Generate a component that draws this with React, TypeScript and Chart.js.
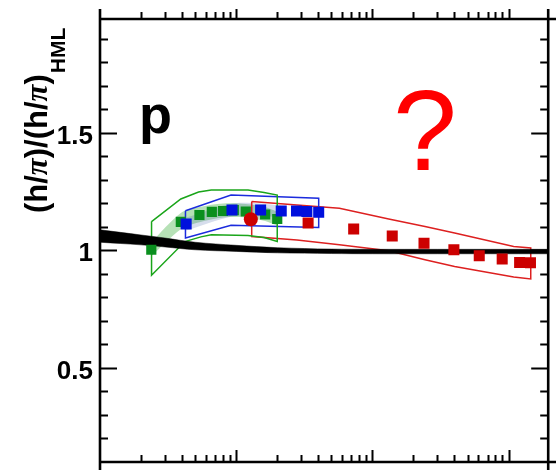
import React, { useEffect, useRef } from "react";
import { Chart, registerables } from "chart.js";

Chart.register(...registerables);

// ---- axis ranges ----
const X_MIN = 1;
const X_MAX = 1950;
const Y_MIN = 0.1;
const Y_MAX = 1.985;

// ---- tick labels ----
const yTickValues = [0.5, 1, 1.5];
const yTickLabels = ["0.5", "1", "1.5"];
const yMinorStep = 0.1;
const xDecades = [1, 10, 100, 1000];

// ---- data: green squares ----
const greenX = [2.38, 3.92, 5.37, 6.62, 8.0, 9.6, 11.75, 16.3, 20.0];
const greenY = [1.003, 1.122, 1.151, 1.164, 1.168, 1.172, 1.166, 1.153, 1.134];

// ---- data: blue squares ----
const blueX = [4.29, 9.31, 15.1, 21.4, 27.7, 33.0, 40.3];
const blueY = [1.113, 1.172, 1.172, 1.168, 1.168, 1.166, 1.163];

// ---- data: red circle ----
const redCircleX = [12.8];
const redCircleY = [1.133];

// ---- data: red squares ----
const redX = [33.7, 72.8, 139.7, 239, 396, 608, 896, 1203, 1445];
const redY = [1.117, 1.091, 1.062, 1.031, 1.003, 0.978, 0.964, 0.949, 0.948];

// ---- black model band ----
const bandX = [1, 2, 3, 5, 10, 20, 50, 100, 300, 1000, 1950];
const bandUpper = [1.088, 1.066, 1.053, 1.035, 1.022, 1.012, 1.006, 1.005, 1.005, 1.005, 1.005];
const bandLower = [1.035, 1.024, 1.015, 1.003, 0.996, 0.99, 0.987, 0.986, 0.986, 0.986, 0.986];

// ---- light green shading ----
const gShadeX = [2.38, 3.92, 5.37, 8.0, 11.75, 16.3, 20.0];
const gShadeUpper = [1.035, 1.16, 1.185, 1.2, 1.198, 1.185, 1.165];
const gShadeLower = [0.975, 1.09, 1.12, 1.14, 1.14, 1.125, 1.105];

// ---- blue-grey shading ----
const bShadeX = [4.29, 9.31, 15.1, 21.4];
const bShadeUpper = [1.14, 1.2, 1.2, 1.19];
const bShadeLower = [1.085, 1.145, 1.145, 1.145];

// ---- systematic outlines ----
const greenSysX = [2.39, 3.92, 5.29, 6.56, 12.2, 16.0, 20.0, 20.0, 16.0, 12.2, 6.56, 5.5, 4.2, 2.39, 2.39];
const greenSysY = [1.123, 1.219, 1.249, 1.257, 1.257, 1.247, 1.236, 1.038, 1.055, 1.064, 1.067, 1.058, 1.038, 0.895, 1.123];

const blueSysX = [4.24, 9.16, 40.3, 40.3, 9.16, 4.24, 4.24];
const blueSysY = [1.169, 1.236, 1.222, 1.098, 1.107, 1.053, 1.169];

const redSysX = [12.99, 27.9, 57.2, 131.6, 243, 401, 1088, 1452, 1452, 1088, 401, 243, 131.6, 57.2, 27.9, 12.99, 12.99];
const redSysY = [1.208, 1.194, 1.18, 1.134, 1.102, 1.074, 1.017, 1.011, 0.879, 0.887, 0.932, 0.961, 0.999, 1.024, 1.045, 1.059, 1.208];

const zip = (xs: number[], ys: number[]) => xs.map((x, i) => ({ x, y: ys[i] }));

const SANS = "'Liberation Sans', Arial, Helvetica, sans-serif";
const SERIF = "'Liberation Serif', 'Times New Roman', serif";

const framePlugin = {
  id: "framePlugin",
  afterDraw(chart: any) {
    const ctx = chart.ctx as CanvasRenderingContext2D;
    const xs = chart.scales.x;
    const ys = chart.scales.y;
    const { left, right, top, bottom } = chart.chartArea;
    ctx.save();
    ctx.strokeStyle = "#000";
    ctx.fillStyle = "#000";
    ctx.lineCap = "butt";

    // frame
    ctx.lineWidth = 2.6;
    ctx.beginPath();
    ctx.moveTo(left, 9);
    ctx.lineTo(left, 470);
    ctx.moveTo(right, 9);
    ctx.lineTo(right, 470);
    ctx.moveTo(left, top);
    ctx.lineTo(556, top);
    ctx.moveTo(left, bottom);
    ctx.lineTo(556, bottom);
    ctx.stroke();

    // x ticks (log)
    ctx.lineWidth = 2;
    ctx.beginPath();
    for (const d of xDecades) {
      for (let m = 1; m <= 9; m++) {
        const v = d * m;
        if (v <= X_MIN || v >= X_MAX) continue;
        const px = Math.round(xs.getPixelForValue(v)) + 0.5;
        const major = m === 1;
        ctx.moveTo(px, bottom);
        ctx.lineTo(px, bottom - (major ? 12 : 7));
        ctx.moveTo(px, top);
        ctx.lineTo(px, top - (major ? 10 : 7));
      }
    }
    // y ticks
    const nMinor = Math.round((Y_MAX - Y_MIN) / yMinorStep) + 2;
    for (let i = 0; i <= nMinor; i++) {
      const v = Math.round(i * yMinorStep * 10) / 10;
      if (v <= Y_MIN || v >= Y_MAX) continue;
      const major = yTickValues.some((t) => Math.abs(t - v) < 1e-6);
      const py = Math.round(ys.getPixelForValue(v)) + 0.5;
      const len = major ? 17 : 8;
      ctx.moveTo(left, py);
      ctx.lineTo(left + len, py);
      ctx.moveTo(right, py);
      ctx.lineTo(right - len, py);
    }
    ctx.stroke();

    // y tick labels
    ctx.font = `bold 26px ${SANS}`;
    ctx.textAlign = "right";
    ctx.textBaseline = "alphabetic";
    yTickValues.forEach((v, i) => {
      const py = ys.getPixelForValue(v);
      ctx.fillText(yTickLabels[i], 93, py + 10.8);
    });

    // y axis title (rotated)
    ctx.save();
    ctx.translate(47, 213);
    ctx.rotate(-Math.PI / 2);
    ctx.textAlign = "left";
    const parts: [string, string][] = [
      ["(h/", `bold 31px ${SANS}`],
      ["\u03C0", `italic bold 31px ${SERIF}`],
      [")/(h/", `bold 31px ${SANS}`],
      ["\u03C0", `italic bold 31px ${SERIF}`],
      [")", `bold 31px ${SANS}`],
    ];
    let cx = 0;
    for (const [t, f] of parts) {
      ctx.font = f;
      ctx.fillText(t, cx, 0);
      cx += ctx.measureText(t).width;
    }
    ctx.font = `bold 21px ${SANS}`;
    ctx.fillText("HML", cx + 1, 18);
    ctx.restore();

    // panel label
    ctx.textAlign = "left";
    ctx.font = `bold 54px ${SANS}`;
    ctx.fillStyle = "#000";
    ctx.fillText("p", 139, 133);

    // question mark
    ctx.font = `115px ${SANS}`;
    ctx.fillStyle = "#ff0000";
    ctx.fillText("?", 393, 170);

    ctx.restore();
  },
};

export default function App() {
  const ref = useRef<HTMLCanvasElement | null>(null);

  useEffect(() => {
    if (!ref.current) return;
    const GREEN = "#0a8f1e";
    const BLUE = "#0010dd";
    const RED = "#cc0000";

    const chart = new Chart(ref.current, {
      type: "scatter",
      data: {
        datasets: [
          // 0 red circle
          {
            data: zip(redCircleX, redCircleY),
            pointStyle: "circle",
            pointRadius: 7,
            backgroundColor: RED,
            borderColor: RED,
            borderWidth: 0,
            order: 0,
          },
          // 1 red squares
          {
            data: zip(redX, redY),
            pointStyle: "rect",
            pointRadius: 7.8,
            backgroundColor: RED,
            borderColor: RED,
            borderWidth: 0,
            order: 1,
          },
          // 2 blue squares
          {
            data: zip(blueX, blueY),
            pointStyle: "rect",
            pointRadius: 7.8,
            backgroundColor: BLUE,
            borderColor: BLUE,
            borderWidth: 0,
            order: 2,
          },
          // 3 green squares
          {
            data: zip(greenX, greenY),
            pointStyle: "rect",
            pointRadius: 7.2,
            backgroundColor: GREEN,
            borderColor: GREEN,
            borderWidth: 0,
            order: 3,
          },
          // 4 black band upper
          {
            data: zip(bandX, bandUpper),
            showLine: true,
            pointRadius: 0,
            borderWidth: 0.5,
            borderColor: "#000",
            backgroundColor: "#000",
            tension: 0.35,
            fill: 5,
            order: 4,
          },
          // 5 black band lower
          {
            data: zip(bandX, bandLower),
            showLine: true,
            pointRadius: 0,
            borderWidth: 0.5,
            borderColor: "#000",
            tension: 0.35,
            fill: false,
            order: 4,
          },
          // 6 green outline
          {
            data: zip(greenSysX, greenSysY),
            showLine: true,
            pointRadius: 0,
            borderWidth: 1.5,
            borderColor: "#1aa51a",
            fill: false,
            tension: 0,
            order: 6,
          },
          // 7 blue outline
          {
            data: zip(blueSysX, blueSysY),
            showLine: true,
            pointRadius: 0,
            borderWidth: 1.5,
            borderColor: "#1b2bdd",
            fill: false,
            tension: 0,
            order: 6,
          },
          // 8 red outline
          {
            data: zip(redSysX, redSysY),
            showLine: true,
            pointRadius: 0,
            borderWidth: 1.5,
            borderColor: "#dd2020",
            fill: false,
            tension: 0,
            order: 6,
          },
          // 9 green shade upper
          {
            data: zip(gShadeX, gShadeUpper),
            showLine: true,
            pointRadius: 0,
            borderWidth: 0,
            borderColor: "rgba(0,0,0,0)",
            backgroundColor: "rgba(110,195,110,0.5)",
            tension: 0.3,
            fill: 10,
            order: 9,
          },
          // 10 green shade lower
          {
            data: zip(gShadeX, gShadeLower),
            showLine: true,
            pointRadius: 0,
            borderWidth: 0,
            borderColor: "rgba(0,0,0,0)",
            tension: 0.3,
            fill: false,
            order: 9,
          },
          // 11 blue shade upper
          {
            data: zip(bShadeX, bShadeUpper),
            showLine: true,
            pointRadius: 0,
            borderWidth: 0,
            borderColor: "rgba(0,0,0,0)",
            backgroundColor: "rgba(70,100,170,0.22)",
            tension: 0.3,
            fill: 12,
            order: 8,
          },
          // 12 blue shade lower
          {
            data: zip(bShadeX, bShadeLower),
            showLine: true,
            pointRadius: 0,
            borderWidth: 0,
            borderColor: "rgba(0,0,0,0)",
            tension: 0.3,
            fill: false,
            order: 8,
          },
        ] as any,
      },
      options: {
        animation: false,
        responsive: false,
        devicePixelRatio: 1,
        layout: { padding: { left: 100, right: 1, top: 19, bottom: 8 } },
        scales: {
          x: { type: "logarithmic", min: X_MIN, max: X_MAX, display: false },
          y: { type: "linear", min: Y_MIN, max: Y_MAX, display: false },
        },
        plugins: {
          legend: { display: false },
          tooltip: { enabled: false },
        },
      },
      plugins: [framePlugin],
    });
    return () => chart.destroy();
  }, []);

  return (
    <div style={{ position: "fixed", left: 0, top: 0, width: 556, height: 470, background: "#fff" }}>
      <canvas ref={ref} width={556} height={470} />
    </div>
  );
}
